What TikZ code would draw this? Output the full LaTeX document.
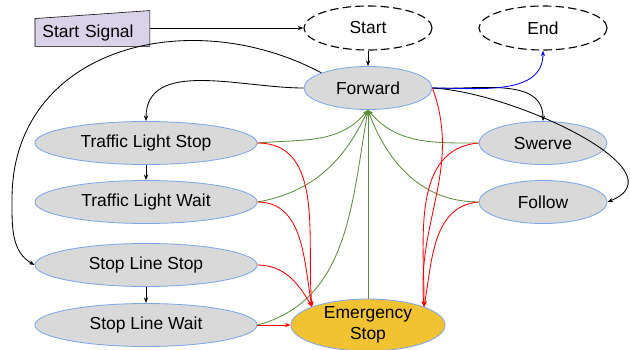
\documentclass[tikz,border=0pt]{standalone}
\usepackage{fontspec}
\setmainfont{Liberation Sans}
\usetikzlibrary{shapes.geometric,arrows.meta,backgrounds}

\definecolor{grisestado}{HTML}{D9D9D9}
\definecolor{bordeazul}{HTML}{7EA6E8}
\definecolor{amarillo}{HTML}{F1C232}
\definecolor{lila}{HTML}{D9D2E9}
\definecolor{verde}{HTML}{5A8F3C}

\begin{document}
\begin{tikzpicture}[x=0.025cm, y=0.025cm, line width=0.6pt,
    >={Stealth[length=4pt,width=3pt]},
    font=\fontsize{12.4}{15}\selectfont,
    estado/.style={ellipse, draw=bordeazul, fill=grisestado, inner sep=0pt, minimum height=1.075cm},
    largo/.style={estado, minimum width=5.55cm},
    corto/.style={estado, minimum width=3.2cm},
    extremo/.style={ellipse, draw, dash pattern=on 6pt off 3pt, line width=0.8pt, inner sep=0pt,
        minimum width=3.2cm, minimum height=1.1cm},
    verdes/.style={->, color=verde},
    rojas/.style={->, color=red}]

    % Fijamos el marco
    \useasboundingbox (0,0) rectangle (630,349);

    % Inicio y fin
    \node[extremo] (start) at (368,321) {Start};
    \node[extremo] (end) at (543,321) {End};
    \node[anchor=west, minimum height=0.675cm, text width=2.5cm, align=left,
        inner xsep=0.175cm, inner ysep=0pt] (sig) at (35,316.5) {Start Signal};
    \begin{scope}[on background layer]
        \draw[fill=lila] (sig.south west) -- (sig.south east) -- ([yshift=0.2cm]sig.north east)
            -- (sig.north west) -- cycle;
    \end{scope}

    % Estados
    \node[corto] (fwd) at (368,261) {Forward};
    \node[largo] (tls) at (146,206) {Traffic Light Stop};
    \node[largo] (tlw) at (146,147) {Traffic Light Wait};
    \node[largo] (sls) at (146,84) {Stop Line Stop};
    \node[largo] (slw) at (146,24) {Stop Line Wait};
    \node[corto] (swerve) at (543,206) {Swerve};
    \node[corto] (follow) at (543,147) {Follow};
    \node[ellipse, draw=bordeazul, fill=amarillo, inner sep=0pt, minimum width=3.85cm,
        minimum height=1.25cm, align=center] (es) at (368,24) {Emergency\\Stop};

    % Punto de giro de la curva grande
    \coordinate (vuelta) at (12,150);

    % Transiciones negras
    \draw[->] (sig.east |- start.west) -- (start.west);
    \draw[->] (start) -- (fwd);
    \draw[->] (fwd.west) to[out=180, in=90] (tls.north);
    \draw[->] (fwd.162) to[out=152, in=90, looseness=1.15] (vuelta) to[out=-90, in=150] (sls.west);
    \draw[->] (tls) -- (tlw);
    \draw[->] (sls) -- (slw);
    \draw[->] (fwd.east) to[out=-3, in=90] (swerve.north);
    \draw[->] (fwd.east) to[out=-3, in=22] (follow.east);
    \draw[->, color=blue] (fwd.east) to[out=0, in=-90] (end.south);

    % Vuelta a Forward
    \draw[verdes] (tls.east) to[out=5, in=-130] (fwd.south);
    \draw[verdes] (tlw.east) to[out=10, in=-115] (fwd.south);
    \draw[verdes] (slw.east) to[out=15, in=-100] (fwd.south);
    \draw[verdes] (es.north) -- (fwd.south);
    \draw[verdes] (swerve.west) to[out=180, in=-50] (fwd.south);
    \draw[verdes] (follow.west) to[out=180, in=-70] (fwd.south);

    % Parada de emergencia
    \draw[rojas] (fwd.east) to[out=-70, in=95] (es.18);
    \draw[rojas] (swerve.west) to[out=185, in=90] (es.18);
    \draw[rojas] (follow.west) to[out=185, in=80] (es.18);
    \draw[rojas] (tls.east) to[out=0, in=95] (es.162);
    \draw[rojas] (tlw.east) to[out=0, in=100] (es.162);
    \draw[rojas] (sls.east) to[out=0, in=120] (es.162);
    \draw[rojas] (slw.east) -- (es.west);

\end{tikzpicture}
\end{document}
